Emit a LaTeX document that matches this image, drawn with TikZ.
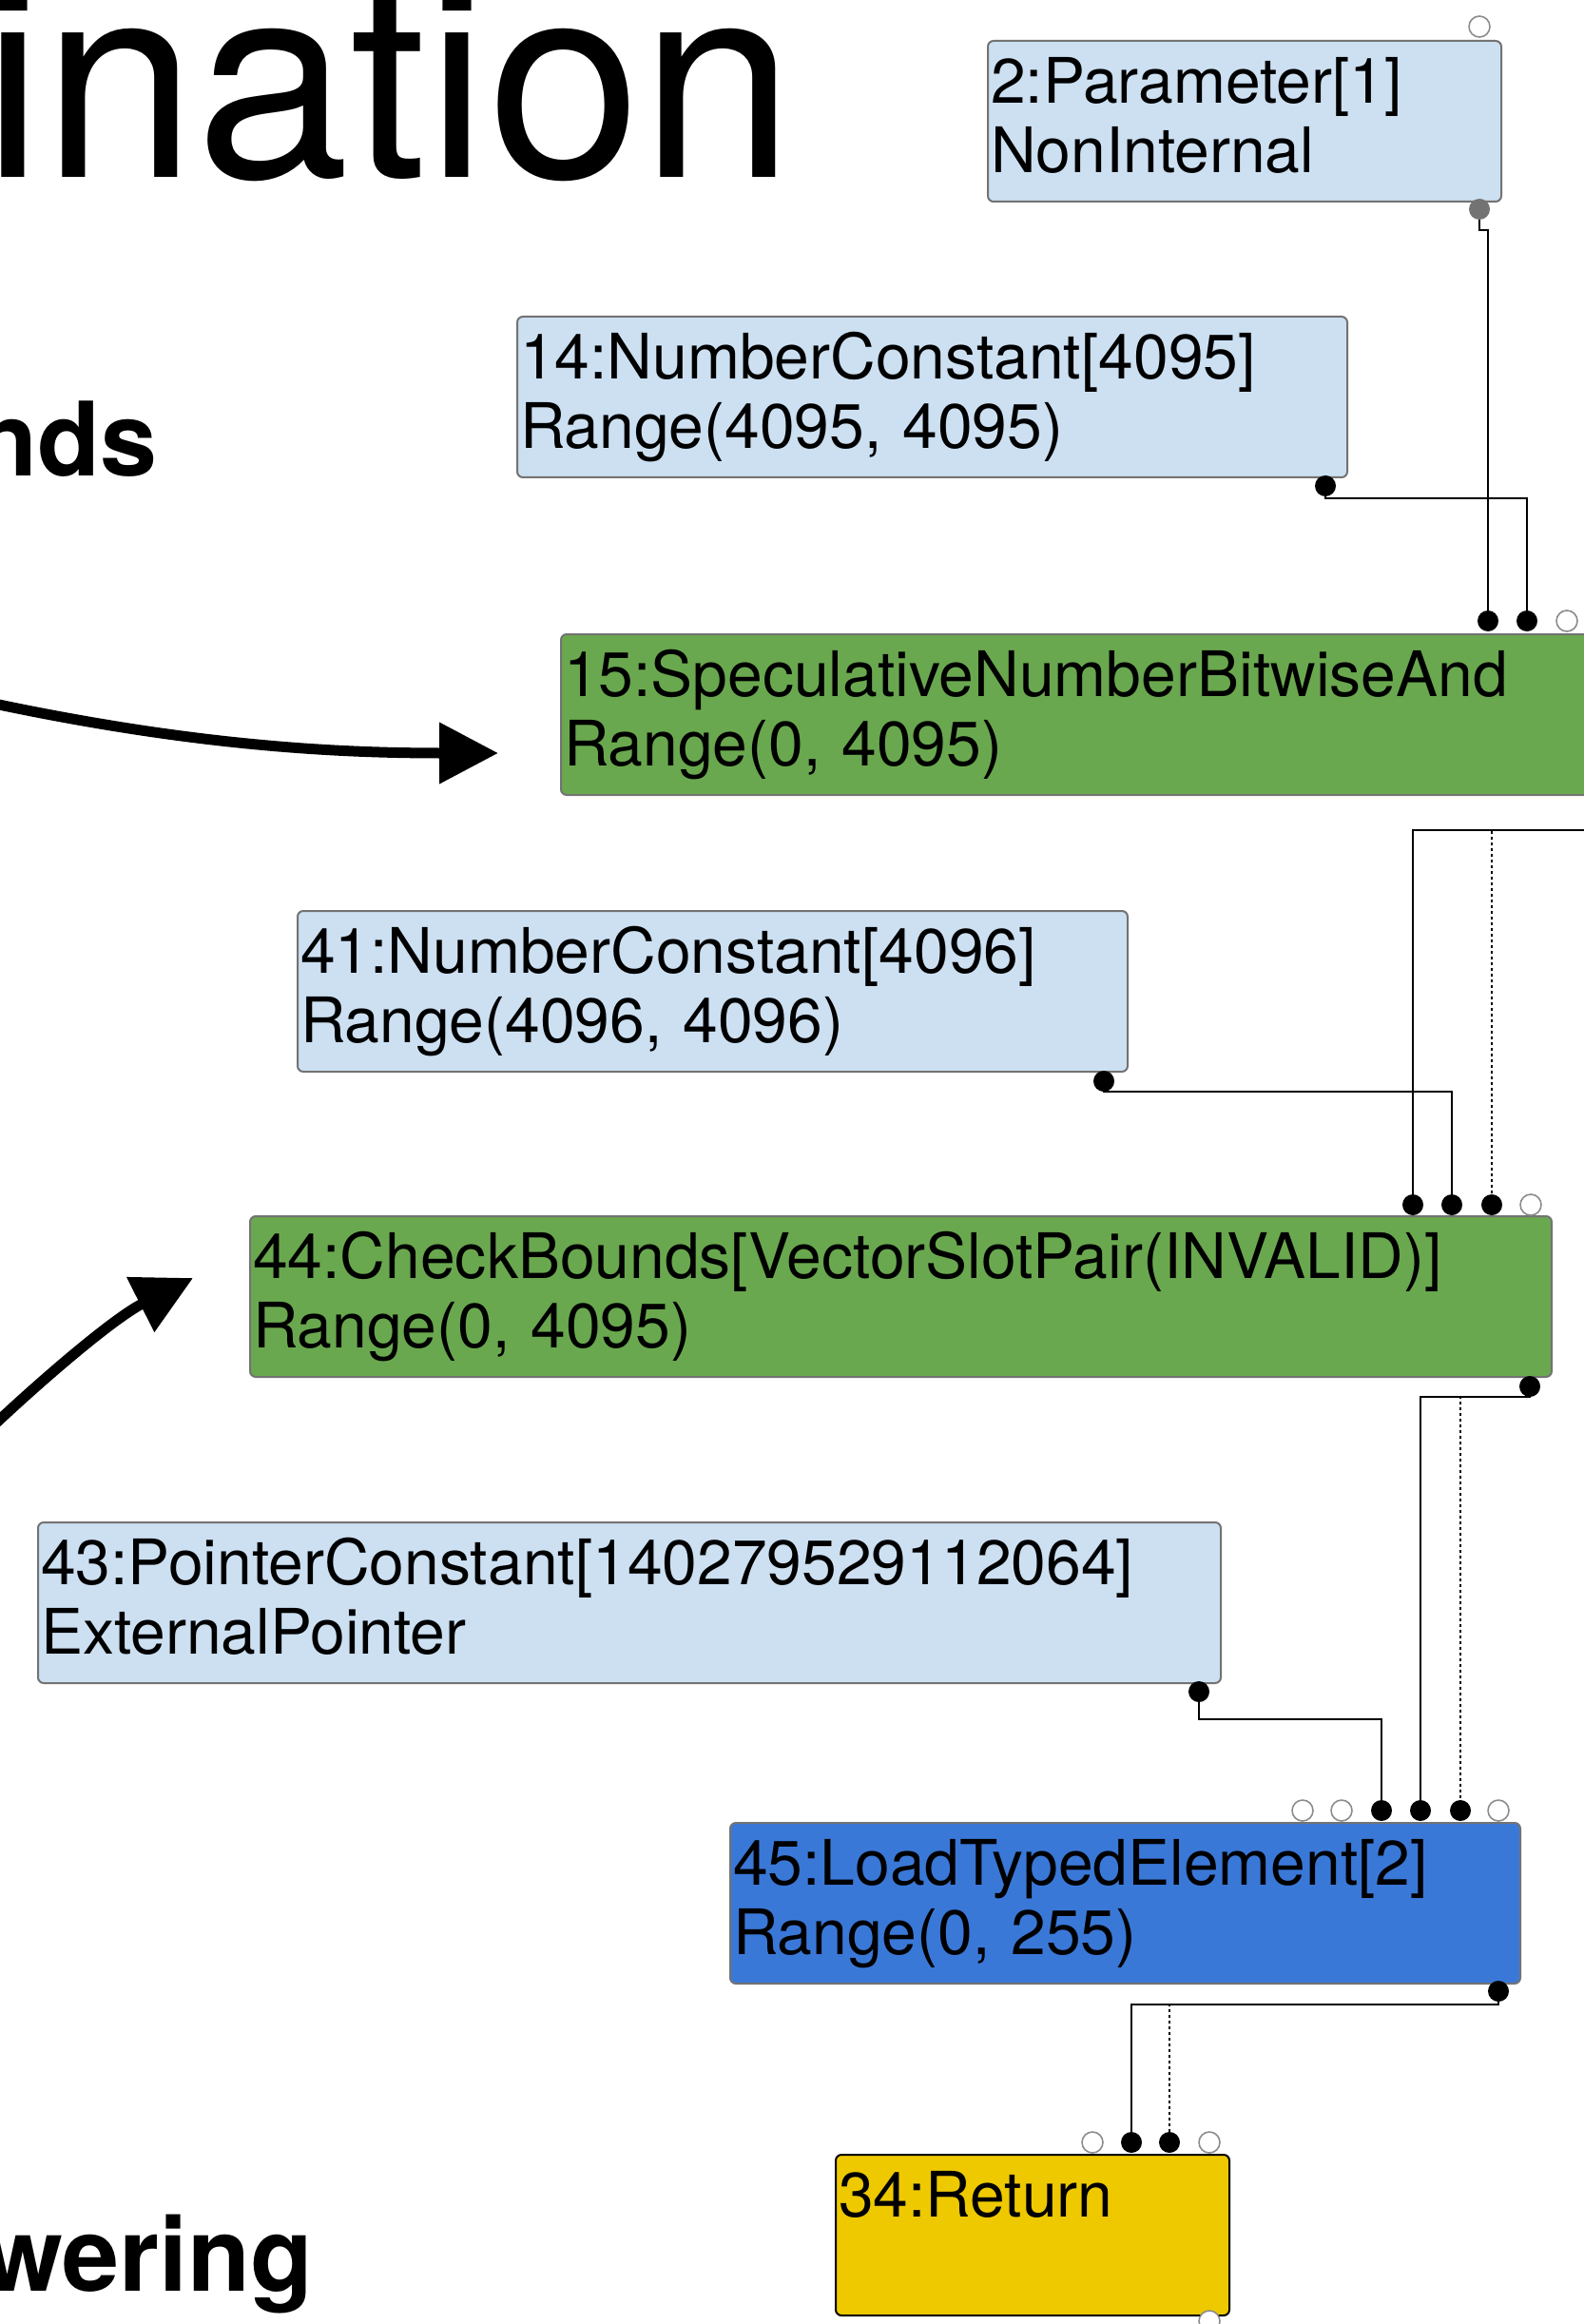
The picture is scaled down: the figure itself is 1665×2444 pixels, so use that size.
\documentclass[tikz,border=0pt]{standalone}
\usepackage{fontspec}
\setmainfont{TeX Gyre Heros}
\usetikzlibrary{arrows.meta}
\definecolor{irblue}{RGB}{204,224,242}
\definecolor{irgreen}{RGB}{106,168,79}
\definecolor{irload}{RGB}{58,120,216}
\definecolor{iryellow}{RGB}{238,201,0}
\newcommand{\irfont}{\fontsize{33}{36.5}\selectfont}
\newcommand{\irtop}{\rule{0pt}{24.5pt}}
\newcommand{\irbot}{\rule[-7pt]{0pt}{7pt}}
\tikzset{
  irbox/.style={draw=black!55, line width=1pt, rounded corners=3pt, anchor=north west,
    inner xsep=1.5pt, inner ysep=0pt, minimum height=84.5pt, align=left, font=\irfont, text width=#1,
    execute at begin node=\irtop, execute at end node=\irbot},
  constbox/.style={irbox=#1, fill=irblue},
  purebox/.style={irbox=#1, fill=irgreen},
  loadbox/.style={irbox=#1, fill=irload},
  retbox/.style={irbox=#1, fill=iryellow, draw=black},
  openport/.style={circle, draw=black!45, fill=white, line width=0.8pt, minimum size=11pt, inner sep=0pt},
  fullport/.style={circle, fill=black, minimum size=11pt, inner sep=0pt},
  wire/.style={line width=1.4pt},
  dwire/.style={wire, dash pattern=on 1.5pt off 1.5pt},
  bigarr/.style={line width=5.5pt, -{Triangle[length=31pt,width=31pt]}},
  headtext/.style={font=\fontsize{145}{150}\selectfont, inner sep=0pt, anchor=base east},
  subhead/.style={font=\fontsize{54}{58}\selectfont\bfseries, inner sep=0pt, anchor=base east},
}
\begin{document}
\begin{tikzpicture}[x=0.5pt,y=-0.5pt]
  \useasboundingbox (0,0) rectangle (1665,2444);
  \fill[white] (0,0) rectangle (1665,2444);
  % slide text, cut by the page edge
  \node[headtext] (ttl) at (836,187) {ination};
  \node[subhead] (bnd) at (166,501) {nds};
  \node[subhead] (low) at (330,2409) {wering};
  % graph nodes
  \node[constbox=267pt] (n2) at (1038,42) {2:Parameter[1]\\NonInternal};
  \node[constbox=433.5pt] (n14) at (543,332) {14:NumberConstant[4095]\\Range(4095, 4095)};
  \node[purebox=552.5pt] (n15) at (589,666) {15:SpeculativeNumberBitwiseAnd\\Range(0, 4095)};
  \node[constbox=433.5pt] (n41) at (312,957) {41:NumberConstant[4096]\\Range(4096, 4096)};
  \node[purebox=681.5pt] (n44) at (262,1278) {44:CheckBounds[VectorSlotPair(INVALID)]\\Range(0, 4095)};
  \node[constbox=619pt] (n43) at (39,1600) {43:PointerConstant[140279529112064]\\ExternalPointer};
  \node[loadbox=412.5pt] (n45) at (767,1916) {45:LoadTypedElement[2]\\Range(0, 255)};
  \node[retbox=204pt] (n34) at (878,2265) {34:Return\\\mbox{}};
  % ports
  \node[openport] (i2) at (1556,28) {};
  \node[fullport, fill=black!55] (o2) at (1556,220) {};
  \node[fullport] (o14) at (1394,511) {};
  \foreach \x/\k in {1565/a,1606/b} \node[fullport] (i15\k) at (\x,653) {};
  \node[openport] (i15c) at (1648,653) {};
  \coordinate (o15) at (1700,873);
  \node[fullport] (o41) at (1161,1137) {};
  \foreach \x/\k in {1486/a,1527/b,1569/c} \node[fullport] (i44\k) at (\x,1267) {};
  \node[openport] (i44d) at (1610,1267) {};
  \node[fullport] (o44) at (1609,1458) {};
  \node[fullport] (o43) at (1261,1779) {};
  \foreach \x/\k in {1370/a,1411/b,1576/f} \node[openport] (i45\k) at (\x,1904) {};
  \foreach \x/\k in {1453/c,1494/d,1536/e} \node[fullport] (i45\k) at (\x,1904) {};
  \node[fullport] (o45) at (1576,2094) {};
  \foreach \x/\k in {1149/a,1272/d} \node[openport] (i34\k) at (\x,2253) {};
  \foreach \x/\k in {1190/b,1230/c} \node[fullport] (i34\k) at (\x,2253) {};
  \node[openport] (o34) at (1272,2441) {};
  % edges
  \draw[wire] (o2) -- ++(0,22) -| (i15a);
  \draw[wire] (o14) -- ++(0,13) -| (i15b);
  \draw[wire] (o15) -| (i44a);
  \draw[dwire] (o15) -| (i44c);
  \draw[wire] (o41) -- ++(0,11) -| (i44b);
  \draw[wire] (o44) -- ++(0,11) -| (i45d);
  \draw[dwire] (o44) -- ++(0,11) -| (i45e);
  \draw[wire] (o43) -- ++(0,29) -| (i45c);
  \draw[wire] (o45) -- ++(0,14) -| (i34b);
  \draw[dwire] (o45) -- ++(0,14) -| (i34c);
  % pointers from the slide text
  \coordinate (a1s) at (-20,737);
  \coordinate (a1e) at (524,792);
  \coordinate (a2s) at (-10,1502);
  \coordinate (a2e) at (203,1344);
  \draw[bigarr] (a1s) .. controls (180,780) and (330,792) .. (a1e);
  \draw[bigarr] (a2s) .. controls (45,1450) and (120,1386) .. (a2e);
\end{tikzpicture}
\end{document}
